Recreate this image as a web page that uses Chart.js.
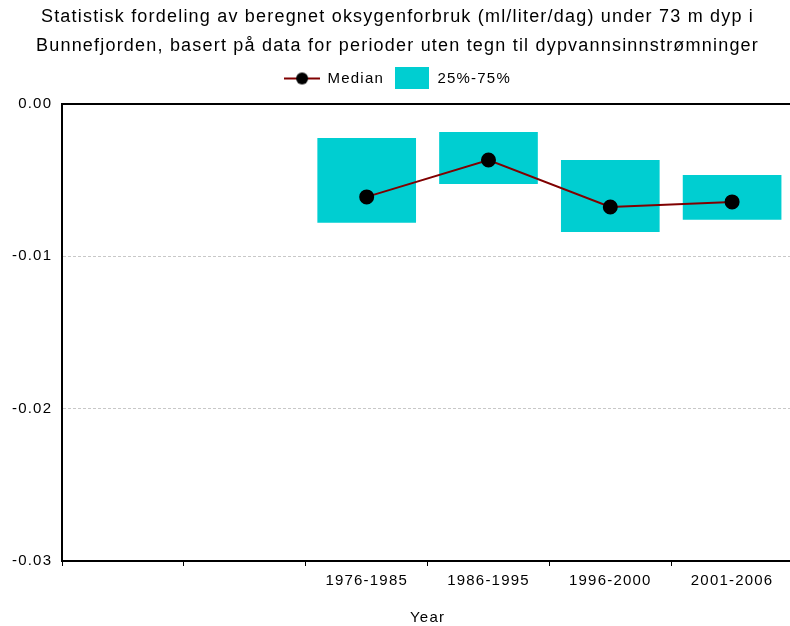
<!DOCTYPE html>
<html>
<head>
<meta charset="utf-8">
<script src="https://cdn.jsdelivr.net/npm/chart.js@4"></script>
<style>
  html, body { margin: 0; padding: 0; background: #fff; overflow: hidden; }
  #wrap { width: 806px; height: 626px; }
</style>
</head>
<body>
<div id="wrap"><canvas id="chart"></canvas></div>
<script>
// Data
const categories = ['', '', '1976-1985', '1986-1995', '1996-2000', '2001-2006'];
const q25 = [null, null, -0.0078, -0.00525, -0.0084, -0.0076];
const q75 = [null, null, -0.00223, -0.00184, -0.00368, -0.00466];
const median = [null, null, -0.0061, -0.00368, -0.00676, -0.00643];
const yTicks = [0, -0.01, -0.02, -0.03];

const FONT = 'Liberation Sans, Arial, sans-serif';

// legend icons
function lineIcon() {
    const c = document.createElement('canvas');
    c.width = 36; c.height = 14;
    const g = c.getContext('2d');
    g.strokeStyle = '#800000'; g.lineWidth = 2;
    g.beginPath(); g.moveTo(0, 7); g.lineTo(36, 7); g.stroke();
    g.fillStyle = '#000';
    g.beginPath(); g.arc(18, 7, 6, 0, Math.PI * 2); g.fill();
    return c;
}
function boxIcon() {
    const c = document.createElement('canvas');
    c.width = 34; c.height = 22;
    const g = c.getContext('2d');
    g.fillStyle = '#00CED1';
    g.fillRect(0, 0, 34, 22);
    return c;
}
const icons = [lineIcon(), boxIcon()];

// the original text is spaced out a bit
const spacing = {
    id: 'spacing',
    beforeUpdate: chart => { chart.ctx.letterSpacing = '1.2px'; },
    beforeDraw: chart => { chart.ctx.letterSpacing = '1.2px'; }
};

const ctx = document.getElementById('chart').getContext('2d');
new Chart(ctx, {
    plugins: [spacing],
    data: {
        labels: categories,
        datasets: [{
            type: 'line',
            label: 'Median',
            data: median,
            borderColor: '#800000',
            borderWidth: 2,
            pointBackgroundColor: '#000',
            pointBorderColor: '#000',
            pointRadius: 6.5,
            spanGaps: true,
            order: 0
        }, {
            type: 'bar',
            label: '25%-75%',
            data: q25.map((v, i) => v === null ? null : [v, q75[i]]),
            backgroundColor: '#00CED1',
            borderWidth: 0,
            barPercentage: 0.81,
            categoryPercentage: 1,
            order: 1
        }]
    },
    options: {
        responsive: true,
        maintainAspectRatio: false,
        animation: false,
        layout: { padding: { left: 2, right: 13, top: 0, bottom: 0 } },
        plugins: {
            title: {
                display: true,
                text: ['Statistisk fordeling av beregnet oksygenforbruk (ml/liter/dag) under 73 m dyp i',
                       'Bunnefjorden, basert på data for perioder uten tegn til dypvannsinnstrømninger'],
                color: '#000',
                font: { family: FONT, size: 18, weight: 'normal', lineHeight: 1.61 },
                padding: { top: 3, bottom: 0 }
            },
            legend: {
                labels: {
                    color: '#000',
                    font: { family: FONT, size: 15 },
                    usePointStyle: true,
                    pointStyleWidth: 36,
                    padding: 10,
                    generateLabels: chart => chart.data.datasets.map((ds, i) => ({
                        text: ds.label,
                        pointStyle: icons[i],
                        fillStyle: 'transparent',
                        strokeStyle: 'transparent',
                        lineWidth: 0,
                        datasetIndex: i
                    }))
                }
            },
            tooltip: { enabled: false }
        },
        scales: {
            x: {
                offset: true,
                grid: {
                    offset: true,
                    drawOnChartArea: false,
                    color: '#000',
                    tickLength: 5
                },
                border: { color: '#000', width: 2 },
                ticks: {
                    color: '#000',
                    font: { family: FONT, size: 15 },
                    maxRotation: 0,
                    padding: 6
                },
                title: {
                    display: true,
                    text: 'Year',
                    color: '#000',
                    font: { family: FONT, size: 15 },
                    padding: { top: 13, bottom: -1 }
                }
            },
            x2: {
                position: 'top',
                labels: categories,
                grid: { display: false },
                border: { color: '#000', width: 2 },
                ticks: { display: false }
            },
            y: {
                min: -0.03,
                max: 0,
                afterBuildTicks: axis => { axis.ticks = yTicks.map(v => ({ value: v })); },
                grid: {
                    color: ctx => ctx.tick && ctx.tick.value === 0 ? 'rgba(0,0,0,0)' : '#c8c8c8',
                    lineWidth: 1,
                    drawTicks: false
                },
                border: { color: '#000', width: 2, dash: [3, 2] },
                ticks: {
                    color: '#000',
                    font: { family: FONT, size: 15 },
                    padding: 10,
                    callback: v => v.toFixed(2)
                }
            }
        }
    }
});
</script>
</body>
</html>
